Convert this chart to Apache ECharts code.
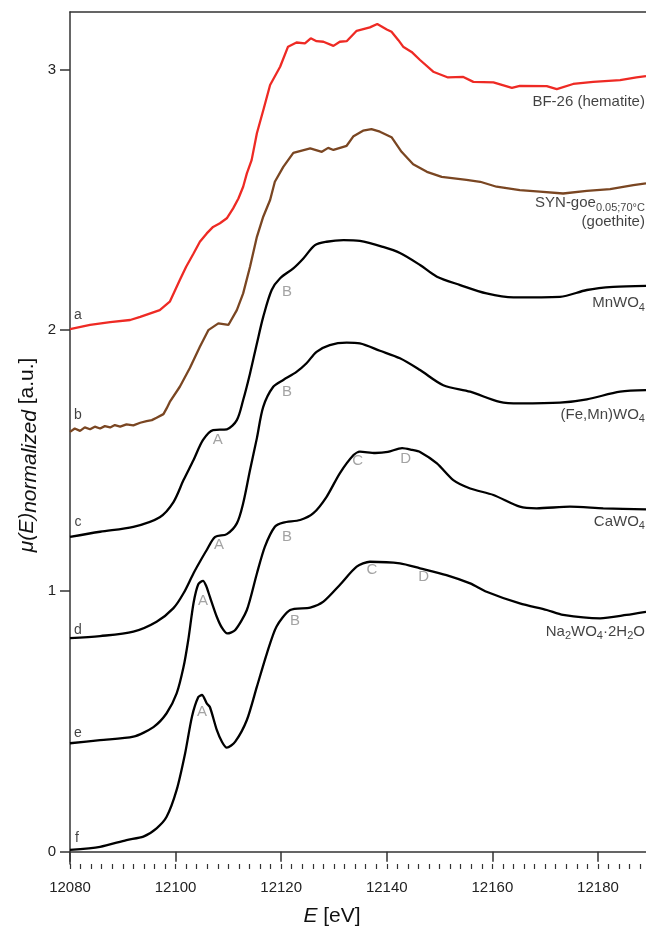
<!DOCTYPE html>
<html><head><meta charset="utf-8">
<script src="https://cdn.jsdelivr.net/npm/echarts@6/dist/echarts.min.js"></script>
<style>html,body{margin:0;padding:0;background:#fff}#c{width:646px;height:929px}</style>
</head><body><div id="c"></div>
<script>
// ---- data (plotted, offset-stacked values) ----
const energyA = [12080,12083.8,12087.6,12091.4,12093.3,12097.0,12098.9,12100.8,12102.0,12103.4,12104.6,12105.9,12107.1,12108.4,12109.7,12110.9,12111.9,12112.8,12113.5,12114.4,12115.4,12116.7,12117.9,12119.8,12121.3,12122.9,12124.5,12125.6,12126.7,12128.0,12129.9,12131.1,12132.4,12134.3,12136.8,12138.2,12140.0,12140.9,12142.2,12143.1,12144.7,12146.3,12148.8,12151.6,12154.5,12156.4,12160.2,12163.7,12165.2,12170.3,12172.2,12175.3,12179.1,12184.2,12187.3,12189.1];
const muA = [2.004,2.020,2.031,2.039,2.051,2.077,2.109,2.192,2.243,2.294,2.339,2.371,2.396,2.410,2.429,2.467,2.505,2.550,2.601,2.652,2.755,2.850,2.940,3.010,3.087,3.103,3.100,3.119,3.108,3.106,3.090,3.106,3.108,3.148,3.161,3.174,3.153,3.144,3.112,3.087,3.067,3.036,2.991,2.969,2.971,2.952,2.950,2.929,2.937,2.936,2.924,2.944,2.952,2.959,2.969,2.974];

const energyB = [12080,12080.9,12081.9,12082.8,12083.8,12084.7,12085.7,12086.6,12087.6,12088.5,12089.5,12090.7,12092.0,12093.3,12094.5,12095.5,12096.4,12097.7,12098.3,12098.9,12100.8,12102.7,12104.6,12106.2,12108.1,12110.0,12111.6,12112.8,12114.1,12115.4,12116.6,12117.9,12118.8,12120.4,12122.3,12125.5,12127.7,12128.9,12129.9,12132.4,12133.7,12135.5,12137.1,12138.7,12140.9,12142.8,12145.0,12147.6,12150.4,12155.1,12157.7,12160.8,12165.2,12169.0,12173.4,12177.9,12182.3,12186.7,12189.1];
const muB = [1.610,1.623,1.614,1.627,1.620,1.630,1.623,1.632,1.627,1.636,1.630,1.639,1.635,1.645,1.651,1.655,1.664,1.678,1.700,1.725,1.783,1.855,1.936,2.000,2.026,2.020,2.077,2.141,2.243,2.358,2.435,2.499,2.569,2.626,2.680,2.697,2.684,2.699,2.691,2.707,2.744,2.765,2.771,2.761,2.740,2.684,2.636,2.607,2.588,2.576,2.569,2.550,2.537,2.531,2.524,2.534,2.541,2.556,2.563];

const energyC = [12080,12085.7,12092.0,12097.0,12099.6,12101.5,12103.4,12105.2,12107.1,12109.7,12111.6,12112.8,12114.1,12115.4,12116.6,12118.2,12119.8,12122.3,12124.2,12126.4,12128.6,12131.8,12134.9,12139.3,12142.5,12146.3,12149.5,12153.9,12158.9,12164.0,12172.8,12177.9,12182.9,12189.1];
const muC = [1.207,1.227,1.246,1.283,1.341,1.425,1.502,1.579,1.617,1.620,1.655,1.732,1.834,1.949,2.051,2.154,2.199,2.237,2.275,2.326,2.339,2.345,2.342,2.319,2.296,2.250,2.205,2.173,2.141,2.126,2.128,2.154,2.166,2.170];

const energyD = [12080,12085.7,12092.0,12096.4,12099.6,12101.5,12103.4,12104.6,12105.9,12107.5,12109.7,12111.6,12112.8,12114.1,12115.4,12116.6,12118.5,12120.4,12122.9,12124.8,12126.7,12129.2,12132.4,12134.9,12138.7,12142.5,12146.3,12150.7,12155.8,12161.4,12165.2,12172.8,12177.9,12184.2,12189.1];
const muD = [0.819,0.827,0.844,0.882,0.934,0.991,1.068,1.112,1.157,1.207,1.218,1.259,1.336,1.464,1.586,1.706,1.783,1.809,1.840,1.873,1.917,1.943,1.952,1.949,1.921,1.892,1.847,1.789,1.764,1.725,1.719,1.722,1.735,1.764,1.770];

const energyE = [12080,12085.7,12092.0,12095.8,12098.3,12100.2,12101.5,12102.4,12103.4,12104.3,12105.2,12105.8,12106.5,12107.8,12108.8,12109.8,12111.3,12113.5,12115.4,12116.9,12118.8,12120.4,12123.6,12126.1,12128.6,12131.1,12133.7,12134.9,12137.8,12140.2,12142.9,12144.8,12146.3,12149.5,12152.6,12155.8,12160.2,12165.2,12168.4,12174.7,12181.0,12189.1];
const muE = [0.416,0.428,0.441,0.478,0.531,0.607,0.708,0.812,0.954,1.026,1.039,1.019,0.977,0.901,0.858,0.837,0.850,0.927,1.067,1.169,1.246,1.262,1.272,1.298,1.361,1.451,1.521,1.534,1.529,1.533,1.548,1.541,1.533,1.489,1.425,1.393,1.368,1.323,1.317,1.323,1.317,1.313];

const energyF = [12080,12085.7,12090.7,12093.9,12096.4,12098.3,12100.2,12101.8,12103.1,12104.3,12105.0,12105.9,12106.5,12107.8,12108.8,12109.7,12111.3,12113.5,12115.4,12117.3,12119.1,12121.7,12125.5,12128.0,12131.1,12134.3,12136.8,12142.5,12146.3,12151.3,12155.8,12158.9,12165.2,12170.3,12173.4,12180.4,12185.4,12189.1];
const muF = [0.007,0.019,0.045,0.058,0.090,0.134,0.237,0.377,0.518,0.593,0.601,0.569,0.555,0.467,0.421,0.399,0.422,0.505,0.633,0.761,0.863,0.927,0.936,0.959,1.023,1.093,1.112,1.106,1.087,1.061,1.029,0.997,0.952,0.927,0.908,0.895,0.908,0.920];

// tick labels
const xTickValues = [12080,12100,12120,12140,12160,12180];
const yTickValues = [0,1,2,3];

// curve tags (letter, E, mu)
const curveTags = [['a',12081.5,2.058],['b',12081.5,1.674],['c',12081.5,1.264],['d',12081.5,0.850],['e',12081.5,0.455],['f',12081.3,0.053]];
// feature tags
const featureTags = [
  ['A',12108.0,1.579],['B',12121.1,2.146],
  ['A',12108.2,1.176],['B',12121.1,1.763],
  ['A',12105.2,0.961],['B',12121.1,1.207],['C',12134.5,1.498],['D',12143.6,1.506],
  ['A',12105.0,0.536],['B',12122.6,0.885],['C',12137.2,1.080],['D',12147.0,1.053]
];
// sample names (rich text, E at right edge, mu)
const sampleNames = [
  ['{n|BF-26 (hematite)}',12188.9,2.876],
  ['{n|SYN-goe}{s|0.05;70°C}',12188.9,2.487],
  ['{n|(goethite)}',12188.9,2.416],
  ['{n|MnWO}{s|4}',12188.9,2.104],
  ['{n|(Fe,Mn)WO}{s|4}',12188.9,1.675],
  ['{n|CaWO}{s|4}',12188.9,1.265],
  ['{n|Na}{s|2}{n|WO}{s|4}{n|·2H}{s|2}{n|O}',12188.9,0.844]
];

// ---- styling ----
const FONT = 'Liberation Sans, Arial, Helvetica, sans-serif';
const curveStyles = [
  {E:energyA, mu:muA, color:'#ee2a24', smooth:0},
  {E:energyB, mu:muB, color:'#7a4622', smooth:0},
  {E:energyC, mu:muC, color:'#000000', smooth:0.3},
  {E:energyD, mu:muD, color:'#000000', smooth:0.3},
  {E:energyE, mu:muE, color:'#000000', smooth:0.25},
  {E:energyF, mu:muF, color:'#000000', smooth:0.25}
];
const minorTicks = [];
for (let v = 12080; v <= 12188; v += 2) minorTicks.push(v);

const axisColor = '#333';
const chart = echarts.init(document.getElementById('c'), null, {renderer:'canvas', width:646, height:929});

const lineSeries = curveStyles.map(c => ({
  type:'line', xAxisIndex:0, yAxisIndex:0,
  data: c.E.map((e,i)=>[e, c.mu[i]]),
  showSymbol:false, symbol:'none', smooth:c.smooth,
  lineStyle:{color:c.color, width:2.3}, z:3
}));

const subRich = {
  n:{fontSize:15, lineHeight:20, color:'#111', fontFamily:FONT},
  s:{fontSize:11, lineHeight:11, verticalAlign:'bottom', color:'#111', fontFamily:FONT}
};

chart.setOption({
  animation:false,
  backgroundColor:'#fff',
  grid:{left:70, right:0, top:12, bottom:65, containLabel:false},
  xAxis:[
    {type:'value', position:'bottom', min:12080, max:12189.1,
     axisLine:{show:true, lineStyle:{color:axisColor, width:1.5}},
     axisTick:{show:true, customValues:xTickValues, length:10, lineStyle:{color:axisColor, width:1.5}},
     axisLabel:{show:true, customValues:xTickValues, margin:16, fontSize:15, color:'#222', fontFamily:FONT,
       formatter:v=>String(v)},
     splitLine:{show:false}},
    {type:'value', position:'bottom', min:12080, max:12189.1,
     axisLine:{show:false},
     axisTick:{show:true, customValues:minorTicks, length:5, lineStyle:{color:axisColor, width:1.2}},
     axisLabel:{show:false}, splitLine:{show:false}},
    {type:'value', position:'top', min:12080, max:12189.1,
     axisLine:{show:true, lineStyle:{color:axisColor, width:1.5}},
     axisTick:{show:false}, axisLabel:{show:false}, splitLine:{show:false}}
  ],
  yAxis:[
    {type:'value', position:'left', min:-0.047, max:3.22,
     axisLine:{show:true, lineStyle:{color:axisColor, width:1.5}},
     axisTick:{show:true, customValues:yTickValues, length:10, lineStyle:{color:axisColor, width:1.5}},
     axisLabel:{show:true, customValues:yTickValues, margin:14, fontSize:15, color:'#222', fontFamily:FONT,
       formatter:v=>String(v)},
     splitLine:{show:false}}
  ],
  graphic:[
    {type:'text', x:27, y:455, rotation:Math.PI/2,
     style:{text:'{i|μ(E)}{s|normalized}{r| [a.u.]}', align:'center', verticalAlign:'middle',
       rich:{
         i:{fontSize:21, fontStyle:'italic', lineHeight:28, fill:'#111', fontFamily:FONT},
         s:{fontSize:21, fontStyle:'italic', lineHeight:22, verticalAlign:'bottom', fill:'#111', fontFamily:FONT},
         r:{fontSize:21, lineHeight:28, fill:'#111', fontFamily:FONT}
       }}},
    {type:'text', x:332, y:916,
     style:{text:'{i|E}{r| [eV]}', align:'center', verticalAlign:'middle',
       rich:{
         i:{fontSize:21, fontStyle:'italic', fill:'#111', fontFamily:FONT},
         r:{fontSize:21, fill:'#111', fontFamily:FONT}
       }}}
  ],
  series: lineSeries.concat([
    {type:'scatter', silent:true, symbolSize:0, z:5,
     data: curveTags.map(t=>({name:t[0], value:[t[1],t[2]]})),
     label:{show:true, position:'inside', formatter:'{b}', fontSize:14, color:'#111', fontFamily:FONT}},
    {type:'scatter', silent:true, symbolSize:0, z:5,
     data: featureTags.map(t=>({name:t[0], value:[t[1],t[2]]})),
     label:{show:true, position:'inside', formatter:'{b}', fontSize:15, color:'#8c8c8c', fontFamily:FONT}},
    {type:'scatter', silent:true, symbolSize:0, z:5,
     data: sampleNames.map(t=>({name:t[0], value:[t[1],t[2]]})),
     label:{show:true, position:'left', distance:0, formatter:'{b}', rich:subRich, fontFamily:FONT}}
  ])
});
</script>
</body></html>
